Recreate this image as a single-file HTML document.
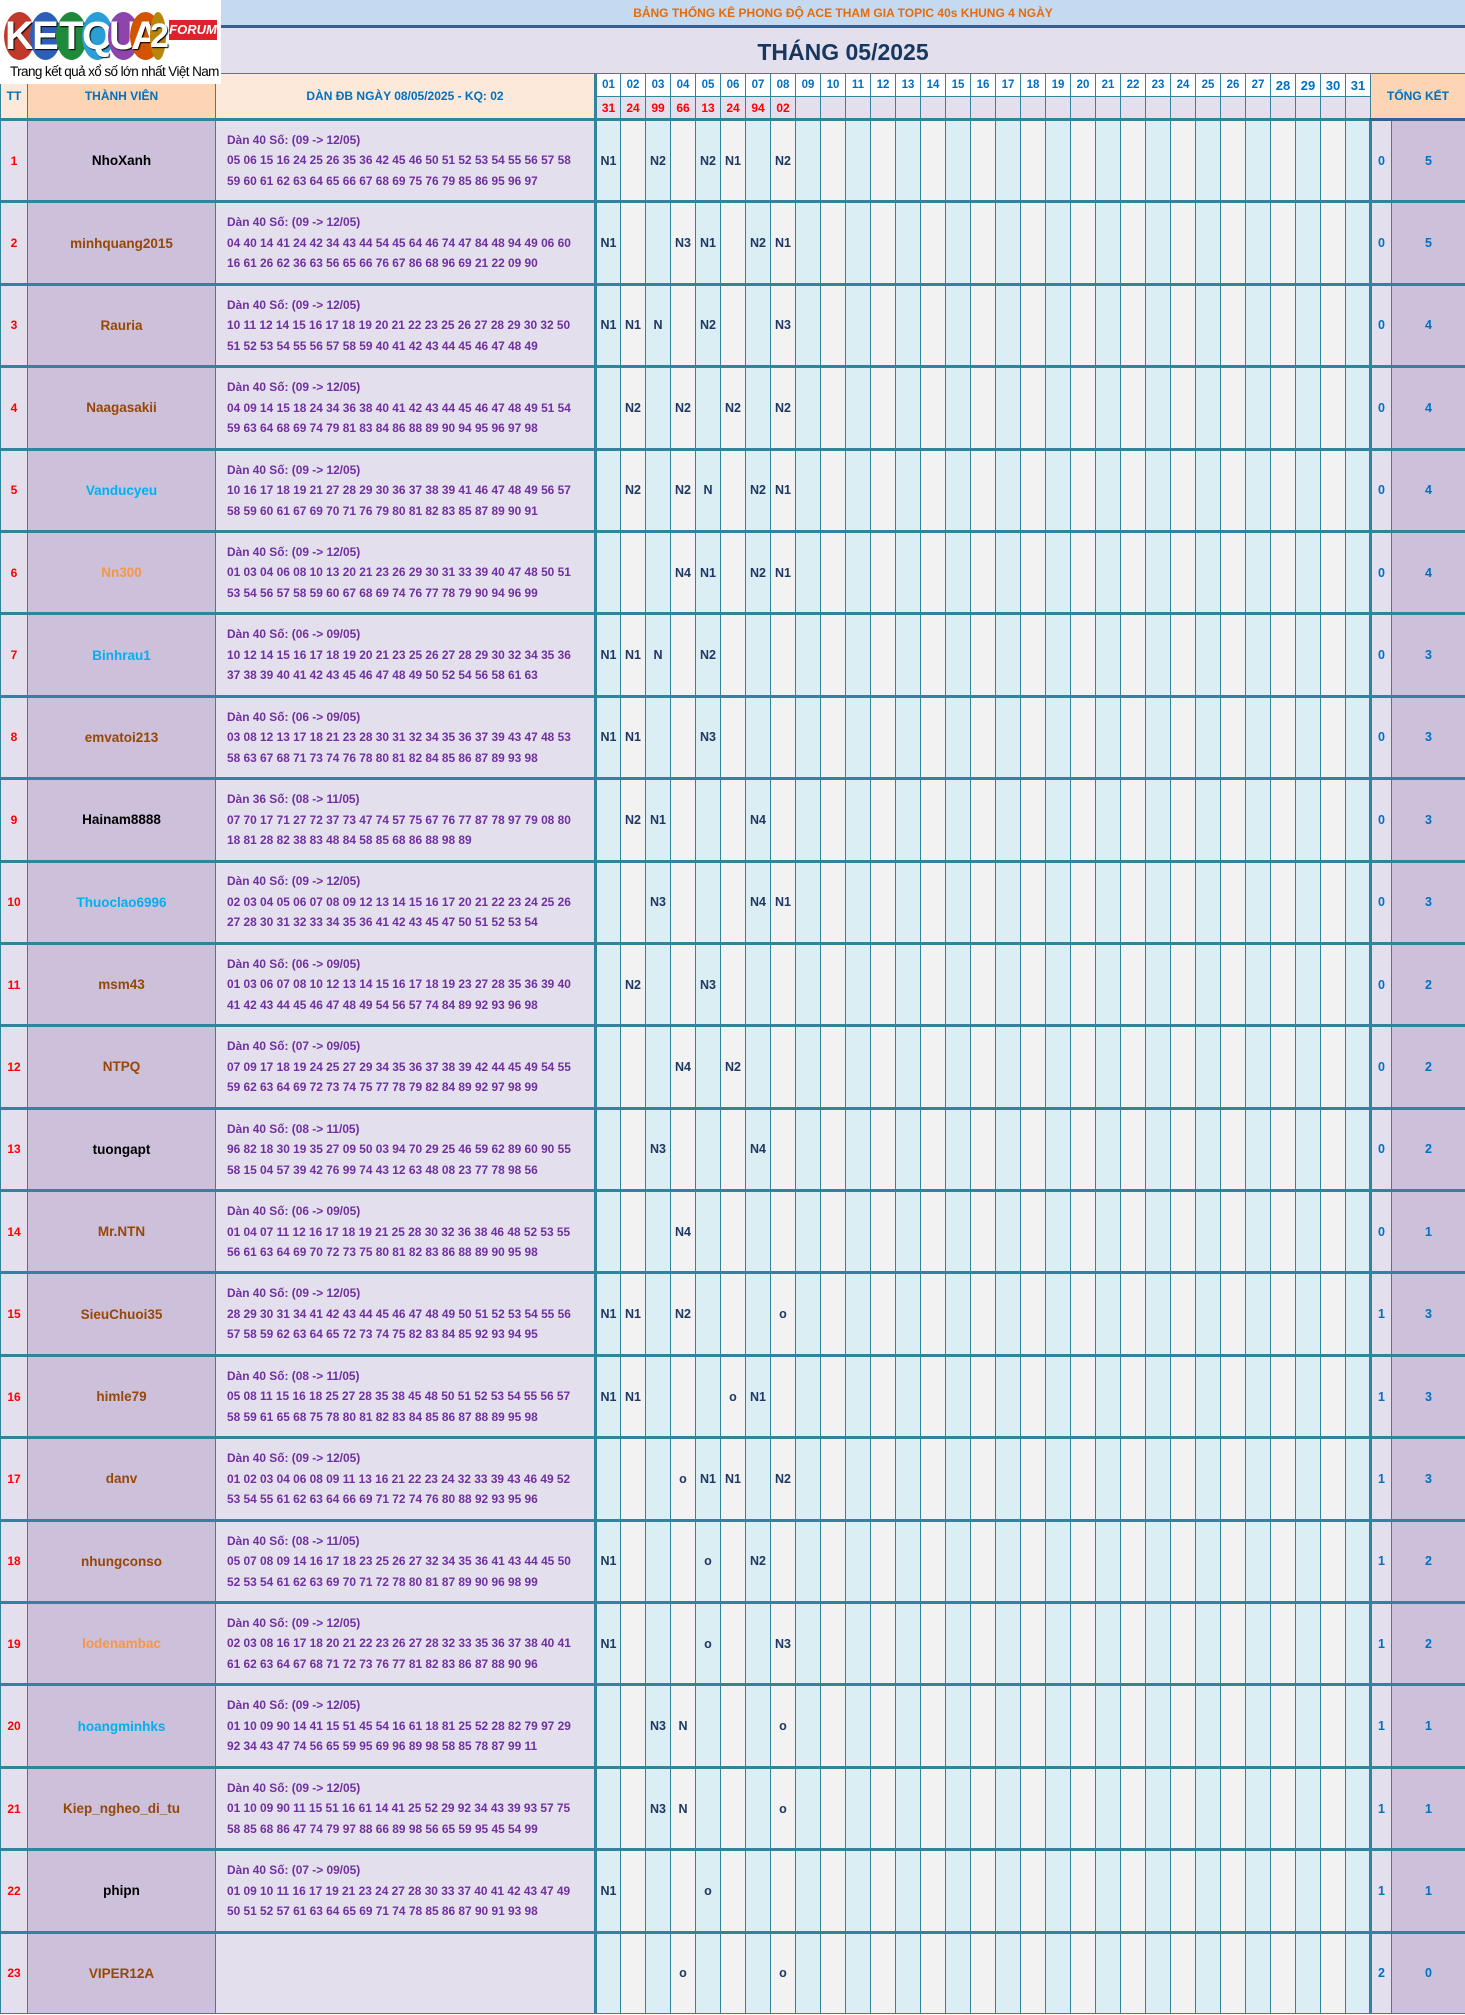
<!DOCTYPE html>
<html><head><meta charset="utf-8"><style>
body{margin:0;width:1465px;height:2015px;overflow:hidden;background:#fff;font-family:"Liberation Sans",sans-serif;font-weight:bold;position:relative}
#top{position:absolute;left:221px;top:0;width:1244px;height:28px;background:#c5d9f1;border-bottom:3px solid #366092;box-sizing:border-box;color:#e46c0a;font-size:12px;text-align:center;line-height:26px}
#ttl{position:absolute;left:221px;top:28px;width:1244px;height:45px;background:#e4dfec;color:#17375e;font-size:23px;text-align:center;line-height:48px}
#logo{position:absolute;left:0;top:0;width:221px;height:84px;background:#fff;z-index:5}
.c{position:absolute;top:12px;width:31px;height:48px;border-radius:50%;color:#fff;font-size:40px;line-height:48px;text-align:center;font-weight:bold;text-shadow:1px 1px 1px #000}
#tag{position:absolute;left:169px;top:20px;width:48px;height:20px;background:#e0202a;color:#fff;font-style:italic;font-size:13px;line-height:20px;text-align:center}
#sub{position:absolute;left:10px;top:64px;font-size:13.5px;color:#000;font-weight:normal;letter-spacing:-0.6px}
table{position:absolute;left:0;top:73px;border-collapse:collapse;table-layout:fixed;width:1465px}
td{border:1px solid #31849b;padding:0;text-align:center;overflow:hidden;white-space:nowrap;font-size:12px}
.h1 td{height:22px;background:#fff;color:#0070c0;font-size:11.5px}
.h2 td{height:21px;background:#e4dfec;color:#f00;font-size:12px;border-bottom:3px solid #31849b}
.hx{background:#fcd5b4!important;color:#0070c0!important;font-size:12px!important}
.hd{background:#fde9d9!important;color:#0070c0!important;font-size:12px!important}
.htt{background:#fde9d9!important;color:#0070c0!important;font-size:12px!important}
.r td{height:79.4px;border-top:3px solid #31849b;color:#1f3864;background:#f2f2f2;font-size:12.5px}
.r td:nth-child(even){background:#daeef3}
.r td.tt{background:#e4dfec;color:#f00;font-size:12px}
.r td.nm{background:#ccc0da;font-size:13.5px}
.r td.dn{background:#e4dfec;color:#7030a0;text-align:left;padding-left:11px;line-height:20.5px;font-size:11.9px;border-right:3px solid #31849b;white-space:nowrap}
.r td.z{background:#e4dfec;color:#0070c0;border-left:3px solid #31849b}
.r td.t{background:#ccc0da;color:#0070c0}
.r td.k{color:#000}.r td.b{color:#974706}.r td.u{color:#00b0f0}.r td.o{color:#f79646}
</style></head><body>
<div id="logo">
<div class="c" style="left:4px;background:#c0392b">K</div>
<div class="c" style="left:30px;background:#2e5fb8">E</div>
<div class="c" style="left:56px;background:#1e8a3a">T</div>
<div class="c" style="left:82px;background:#2a9fd6">Q</div>
<div class="c" style="left:108px;background:#8e44ad">U</div>
<div class="c" style="left:130px;background:#d35400">A</div>
<div class="c" style="left:150px;width:16px;background:#b8860b;font-size:34px">2</div>
<div id="tag">FORUM</div>
<div id="sub">Trang kết quả xổ số lớn nhất Việt Nam</div>
</div>
<div id="top">BẢNG THỐNG KÊ PHONG ĐỘ ACE THAM GIA TOPIC 40s KHUNG 4 NGÀY</div>
<div id="ttl">THÁNG 05/2025</div>
<table>
<colgroup><col style="width:27px"><col style="width:188px"><col style="width:380px"><col span="31" style="width:25px"><col style="width:21px"><col style="width:74px"></colgroup>
<tr class="h1"><td rowspan="2" class="htt">TT</td><td rowspan="2" class="hx">THÀNH VIÊN</td><td rowspan="2" class="hd" style="border-right:3px solid #31849b">DÀN ĐB NGÀY 08/05/2025 - KQ: 02</td><td>01</td><td>02</td><td>03</td><td>04</td><td>05</td><td>06</td><td>07</td><td>08</td><td>09</td><td>10</td><td>11</td><td>12</td><td>13</td><td>14</td><td>15</td><td>16</td><td>17</td><td>18</td><td>19</td><td>20</td><td>21</td><td>22</td><td>23</td><td>24</td><td>25</td><td>26</td><td>27</td><td style="font-size:13px">28</td><td style="font-size:13px">29</td><td style="font-size:13px">30</td><td style="font-size:13px">31</td><td colspan="2" rowspan="2" class="hx" style="border-bottom:3px solid #366092">TỔNG KẾT</td></tr>
<tr class="h2"><td>31</td><td>24</td><td>99</td><td>66</td><td>13</td><td>24</td><td>94</td><td>02</td><td></td><td></td><td></td><td></td><td></td><td></td><td></td><td></td><td></td><td></td><td></td><td></td><td></td><td></td><td></td><td></td><td></td><td></td><td></td><td></td><td></td><td></td><td></td></tr>
<tr class="r"><td class="tt">1</td><td class="nm k">NhoXanh</td><td class="dn">Dàn 40 Số: (09 -&gt; 12/05)<br>05 06 15 16 24 25 26 35 36 42 45 46 50 51 52 53 54 55 56 57 58<br>59 60 61 62 63 64 65 66 67 68 69 75 76 79 85 86 95 96 97</td><td>N1</td><td></td><td>N2</td><td></td><td>N2</td><td>N1</td><td></td><td>N2</td><td></td><td></td><td></td><td></td><td></td><td></td><td></td><td></td><td></td><td></td><td></td><td></td><td></td><td></td><td></td><td></td><td></td><td></td><td></td><td></td><td></td><td></td><td></td><td class="z">0</td><td class="t">5</td></tr>
<tr class="r"><td class="tt">2</td><td class="nm b">minhquang2015</td><td class="dn">Dàn 40 Số: (09 -&gt; 12/05)<br>04 40 14 41 24 42 34 43 44 54 45 64 46 74 47 84 48 94 49 06 60<br>16 61 26 62 36 63 56 65 66 76 67 86 68 96 69 21 22 09 90</td><td>N1</td><td></td><td></td><td>N3</td><td>N1</td><td></td><td>N2</td><td>N1</td><td></td><td></td><td></td><td></td><td></td><td></td><td></td><td></td><td></td><td></td><td></td><td></td><td></td><td></td><td></td><td></td><td></td><td></td><td></td><td></td><td></td><td></td><td></td><td class="z">0</td><td class="t">5</td></tr>
<tr class="r"><td class="tt">3</td><td class="nm b">Rauria</td><td class="dn">Dàn 40 Số: (09 -&gt; 12/05)<br>10 11 12 14 15 16 17 18 19 20 21 22 23 25 26 27 28 29 30 32 50<br>51 52 53 54 55 56 57 58 59 40 41 42 43 44 45 46 47 48 49</td><td>N1</td><td>N1</td><td>N</td><td></td><td>N2</td><td></td><td></td><td>N3</td><td></td><td></td><td></td><td></td><td></td><td></td><td></td><td></td><td></td><td></td><td></td><td></td><td></td><td></td><td></td><td></td><td></td><td></td><td></td><td></td><td></td><td></td><td></td><td class="z">0</td><td class="t">4</td></tr>
<tr class="r"><td class="tt">4</td><td class="nm b">Naagasakii</td><td class="dn">Dàn 40 Số: (09 -&gt; 12/05)<br>04 09 14 15 18 24 34 36 38 40 41 42 43 44 45 46 47 48 49 51 54<br>59 63 64 68 69 74 79 81 83 84 86 88 89 90 94 95 96 97 98</td><td></td><td>N2</td><td></td><td>N2</td><td></td><td>N2</td><td></td><td>N2</td><td></td><td></td><td></td><td></td><td></td><td></td><td></td><td></td><td></td><td></td><td></td><td></td><td></td><td></td><td></td><td></td><td></td><td></td><td></td><td></td><td></td><td></td><td></td><td class="z">0</td><td class="t">4</td></tr>
<tr class="r"><td class="tt">5</td><td class="nm u">Vanducyeu</td><td class="dn">Dàn 40 Số: (09 -&gt; 12/05)<br>10 16 17 18 19 21 27 28 29 30 36 37 38 39 41 46 47 48 49 56 57<br>58 59 60 61 67 69 70 71 76 79 80 81 82 83 85 87 89 90 91</td><td></td><td>N2</td><td></td><td>N2</td><td>N</td><td></td><td>N2</td><td>N1</td><td></td><td></td><td></td><td></td><td></td><td></td><td></td><td></td><td></td><td></td><td></td><td></td><td></td><td></td><td></td><td></td><td></td><td></td><td></td><td></td><td></td><td></td><td></td><td class="z">0</td><td class="t">4</td></tr>
<tr class="r"><td class="tt">6</td><td class="nm o">Nn300</td><td class="dn">Dàn 40 Số: (09 -&gt; 12/05)<br>01 03 04 06 08 10 13 20 21 23 26 29 30 31 33 39 40 47 48 50 51<br>53 54 56 57 58 59 60 67 68 69 74 76 77 78 79 90 94 96 99</td><td></td><td></td><td></td><td>N4</td><td>N1</td><td></td><td>N2</td><td>N1</td><td></td><td></td><td></td><td></td><td></td><td></td><td></td><td></td><td></td><td></td><td></td><td></td><td></td><td></td><td></td><td></td><td></td><td></td><td></td><td></td><td></td><td></td><td></td><td class="z">0</td><td class="t">4</td></tr>
<tr class="r"><td class="tt">7</td><td class="nm u">Binhrau1</td><td class="dn">Dàn 40 Số: (06 -&gt; 09/05)<br>10 12 14 15 16 17 18 19 20 21 23 25 26 27 28 29 30 32 34 35 36<br>37 38 39 40 41 42 43 45 46 47 48 49 50 52 54 56 58 61 63</td><td>N1</td><td>N1</td><td>N</td><td></td><td>N2</td><td></td><td></td><td></td><td></td><td></td><td></td><td></td><td></td><td></td><td></td><td></td><td></td><td></td><td></td><td></td><td></td><td></td><td></td><td></td><td></td><td></td><td></td><td></td><td></td><td></td><td></td><td class="z">0</td><td class="t">3</td></tr>
<tr class="r"><td class="tt">8</td><td class="nm b">emvatoi213</td><td class="dn">Dàn 40 Số: (06 -&gt; 09/05)<br>03 08 12 13 17 18 21 23 28 30 31 32 34 35 36 37 39 43 47 48 53<br>58 63 67 68 71 73 74 76 78 80 81 82 84 85 86 87 89 93 98</td><td>N1</td><td>N1</td><td></td><td></td><td>N3</td><td></td><td></td><td></td><td></td><td></td><td></td><td></td><td></td><td></td><td></td><td></td><td></td><td></td><td></td><td></td><td></td><td></td><td></td><td></td><td></td><td></td><td></td><td></td><td></td><td></td><td></td><td class="z">0</td><td class="t">3</td></tr>
<tr class="r"><td class="tt">9</td><td class="nm k">Hainam8888</td><td class="dn">Dàn 36 Số: (08 -&gt; 11/05)<br>07 70 17 71 27 72 37 73 47 74 57 75 67 76 77 87 78 97 79 08 80<br>18 81 28 82 38 83 48 84 58 85 68 86 88 98 89</td><td></td><td>N2</td><td>N1</td><td></td><td></td><td></td><td>N4</td><td></td><td></td><td></td><td></td><td></td><td></td><td></td><td></td><td></td><td></td><td></td><td></td><td></td><td></td><td></td><td></td><td></td><td></td><td></td><td></td><td></td><td></td><td></td><td></td><td class="z">0</td><td class="t">3</td></tr>
<tr class="r"><td class="tt">10</td><td class="nm u">Thuoclao6996</td><td class="dn">Dàn 40 Số: (09 -&gt; 12/05)<br>02 03 04 05 06 07 08 09 12 13 14 15 16 17 20 21 22 23 24 25 26<br>27 28 30 31 32 33 34 35 36 41 42 43 45 47 50 51 52 53 54</td><td></td><td></td><td>N3</td><td></td><td></td><td></td><td>N4</td><td>N1</td><td></td><td></td><td></td><td></td><td></td><td></td><td></td><td></td><td></td><td></td><td></td><td></td><td></td><td></td><td></td><td></td><td></td><td></td><td></td><td></td><td></td><td></td><td></td><td class="z">0</td><td class="t">3</td></tr>
<tr class="r"><td class="tt">11</td><td class="nm b">msm43</td><td class="dn">Dàn 40 Số: (06 -&gt; 09/05)<br>01 03 06 07 08 10 12 13 14 15 16 17 18 19 23 27 28 35 36 39 40<br>41 42 43 44 45 46 47 48 49 54 56 57 74 84 89 92 93 96 98</td><td></td><td>N2</td><td></td><td></td><td>N3</td><td></td><td></td><td></td><td></td><td></td><td></td><td></td><td></td><td></td><td></td><td></td><td></td><td></td><td></td><td></td><td></td><td></td><td></td><td></td><td></td><td></td><td></td><td></td><td></td><td></td><td></td><td class="z">0</td><td class="t">2</td></tr>
<tr class="r"><td class="tt">12</td><td class="nm b">NTPQ</td><td class="dn">Dàn 40 Số: (07 -&gt; 09/05)<br>07 09 17 18 19 24 25 27 29 34 35 36 37 38 39 42 44 45 49 54 55<br>59 62 63 64 69 72 73 74 75 77 78 79 82 84 89 92 97 98 99</td><td></td><td></td><td></td><td>N4</td><td></td><td>N2</td><td></td><td></td><td></td><td></td><td></td><td></td><td></td><td></td><td></td><td></td><td></td><td></td><td></td><td></td><td></td><td></td><td></td><td></td><td></td><td></td><td></td><td></td><td></td><td></td><td></td><td class="z">0</td><td class="t">2</td></tr>
<tr class="r"><td class="tt">13</td><td class="nm k">tuongapt</td><td class="dn">Dàn 40 Số: (08 -&gt; 11/05)<br>96 82 18 30 19 35 27 09 50 03 94 70 29 25 46 59 62 89 60 90 55<br>58 15 04 57 39 42 76 99 74 43 12 63 48 08 23 77 78 98 56</td><td></td><td></td><td>N3</td><td></td><td></td><td></td><td>N4</td><td></td><td></td><td></td><td></td><td></td><td></td><td></td><td></td><td></td><td></td><td></td><td></td><td></td><td></td><td></td><td></td><td></td><td></td><td></td><td></td><td></td><td></td><td></td><td></td><td class="z">0</td><td class="t">2</td></tr>
<tr class="r"><td class="tt">14</td><td class="nm b">Mr.NTN</td><td class="dn">Dàn 40 Số: (06 -&gt; 09/05)<br>01 04 07 11 12 16 17 18 19 21 25 28 30 32 36 38 46 48 52 53 55<br>56 61 63 64 69 70 72 73 75 80 81 82 83 86 88 89 90 95 98</td><td></td><td></td><td></td><td>N4</td><td></td><td></td><td></td><td></td><td></td><td></td><td></td><td></td><td></td><td></td><td></td><td></td><td></td><td></td><td></td><td></td><td></td><td></td><td></td><td></td><td></td><td></td><td></td><td></td><td></td><td></td><td></td><td class="z">0</td><td class="t">1</td></tr>
<tr class="r"><td class="tt">15</td><td class="nm b">SieuChuoi35</td><td class="dn">Dàn 40 Số: (09 -&gt; 12/05)<br>28 29 30 31 34 41 42 43 44 45 46 47 48 49 50 51 52 53 54 55 56<br>57 58 59 62 63 64 65 72 73 74 75 82 83 84 85 92 93 94 95</td><td>N1</td><td>N1</td><td></td><td>N2</td><td></td><td></td><td></td><td>o</td><td></td><td></td><td></td><td></td><td></td><td></td><td></td><td></td><td></td><td></td><td></td><td></td><td></td><td></td><td></td><td></td><td></td><td></td><td></td><td></td><td></td><td></td><td></td><td class="z">1</td><td class="t">3</td></tr>
<tr class="r"><td class="tt">16</td><td class="nm b">himle79</td><td class="dn">Dàn 40 Số: (08 -&gt; 11/05)<br>05 08 11 15 16 18 25 27 28 35 38 45 48 50 51 52 53 54 55 56 57<br>58 59 61 65 68 75 78 80 81 82 83 84 85 86 87 88 89 95 98</td><td>N1</td><td>N1</td><td></td><td></td><td></td><td>o</td><td>N1</td><td></td><td></td><td></td><td></td><td></td><td></td><td></td><td></td><td></td><td></td><td></td><td></td><td></td><td></td><td></td><td></td><td></td><td></td><td></td><td></td><td></td><td></td><td></td><td></td><td class="z">1</td><td class="t">3</td></tr>
<tr class="r"><td class="tt">17</td><td class="nm b">danv</td><td class="dn">Dàn 40 Số: (09 -&gt; 12/05)<br>01 02 03 04 06 08 09 11 13 16 21 22 23 24 32 33 39 43 46 49 52<br>53 54 55 61 62 63 64 66 69 71 72 74 76 80 88 92 93 95 96</td><td></td><td></td><td></td><td>o</td><td>N1</td><td>N1</td><td></td><td>N2</td><td></td><td></td><td></td><td></td><td></td><td></td><td></td><td></td><td></td><td></td><td></td><td></td><td></td><td></td><td></td><td></td><td></td><td></td><td></td><td></td><td></td><td></td><td></td><td class="z">1</td><td class="t">3</td></tr>
<tr class="r"><td class="tt">18</td><td class="nm b">nhungconso</td><td class="dn">Dàn 40 Số: (08 -&gt; 11/05)<br>05 07 08 09 14 16 17 18 23 25 26 27 32 34 35 36 41 43 44 45 50<br>52 53 54 61 62 63 69 70 71 72 78 80 81 87 89 90 96 98 99</td><td>N1</td><td></td><td></td><td></td><td>o</td><td></td><td>N2</td><td></td><td></td><td></td><td></td><td></td><td></td><td></td><td></td><td></td><td></td><td></td><td></td><td></td><td></td><td></td><td></td><td></td><td></td><td></td><td></td><td></td><td></td><td></td><td></td><td class="z">1</td><td class="t">2</td></tr>
<tr class="r"><td class="tt">19</td><td class="nm o">lodenambac</td><td class="dn">Dàn 40 Số: (09 -&gt; 12/05)<br>02 03 08 16 17 18 20 21 22 23 26 27 28 32 33 35 36 37 38 40 41<br>61 62 63 64 67 68 71 72 73 76 77 81 82 83 86 87 88 90 96</td><td>N1</td><td></td><td></td><td></td><td>o</td><td></td><td></td><td>N3</td><td></td><td></td><td></td><td></td><td></td><td></td><td></td><td></td><td></td><td></td><td></td><td></td><td></td><td></td><td></td><td></td><td></td><td></td><td></td><td></td><td></td><td></td><td></td><td class="z">1</td><td class="t">2</td></tr>
<tr class="r"><td class="tt">20</td><td class="nm u">hoangminhks</td><td class="dn">Dàn 40 Số: (09 -&gt; 12/05)<br>01 10 09 90 14 41 15 51 45 54 16 61 18 81 25 52 28 82 79 97 29<br>92 34 43 47 74 56 65 59 95 69 96 89 98 58 85 78 87 99 11</td><td></td><td></td><td>N3</td><td>N</td><td></td><td></td><td></td><td>o</td><td></td><td></td><td></td><td></td><td></td><td></td><td></td><td></td><td></td><td></td><td></td><td></td><td></td><td></td><td></td><td></td><td></td><td></td><td></td><td></td><td></td><td></td><td></td><td class="z">1</td><td class="t">1</td></tr>
<tr class="r"><td class="tt">21</td><td class="nm b">Kiep_ngheo_di_tu</td><td class="dn">Dàn 40 Số: (09 -&gt; 12/05)<br>01 10 09 90 11 15 51 16 61 14 41 25 52 29 92 34 43 39 93 57 75<br>58 85 68 86 47 74 79 97 88 66 89 98 56 65 59 95 45 54 99</td><td></td><td></td><td>N3</td><td>N</td><td></td><td></td><td></td><td>o</td><td></td><td></td><td></td><td></td><td></td><td></td><td></td><td></td><td></td><td></td><td></td><td></td><td></td><td></td><td></td><td></td><td></td><td></td><td></td><td></td><td></td><td></td><td></td><td class="z">1</td><td class="t">1</td></tr>
<tr class="r"><td class="tt">22</td><td class="nm k">phipn</td><td class="dn">Dàn 40 Số: (07 -&gt; 09/05)<br>01 09 10 11 16 17 19 21 23 24 27 28 30 33 37 40 41 42 43 47 49<br>50 51 52 57 61 63 64 65 69 71 74 78 85 86 87 90 91 93 98</td><td>N1</td><td></td><td></td><td></td><td>o</td><td></td><td></td><td></td><td></td><td></td><td></td><td></td><td></td><td></td><td></td><td></td><td></td><td></td><td></td><td></td><td></td><td></td><td></td><td></td><td></td><td></td><td></td><td></td><td></td><td></td><td></td><td class="z">1</td><td class="t">1</td></tr>
<tr class="r"><td class="tt">23</td><td class="nm b">VIPER12A</td><td class="dn"></td><td></td><td></td><td></td><td>o</td><td></td><td></td><td></td><td>o</td><td></td><td></td><td></td><td></td><td></td><td></td><td></td><td></td><td></td><td></td><td></td><td></td><td></td><td></td><td></td><td></td><td></td><td></td><td></td><td></td><td></td><td></td><td></td><td class="z">2</td><td class="t">0</td></tr>
</table>
</body></html>
